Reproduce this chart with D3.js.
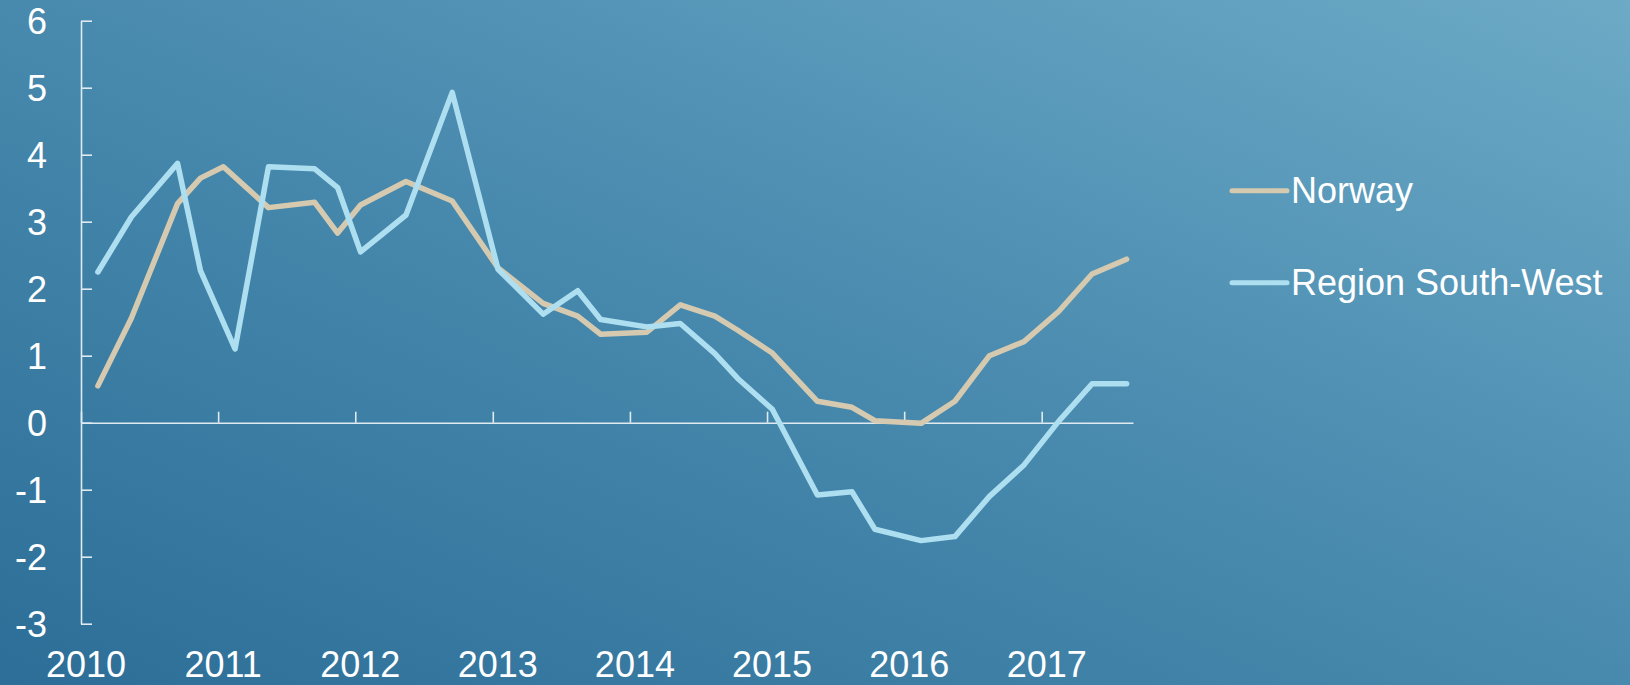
<!DOCTYPE html>
<html lang="en">
<head>
  <meta charset="UTF-8">
  <title>Norway vs Region South-West</title>
  <script src="https://cdn.jsdelivr.net/npm/d3@7"></script>
  <style>
    body {
      margin: 0;
      overflow: hidden;
    }

    text {
      font-family: "Liberation Sans", Arial, sans-serif;
      font-size: 36px;
      fill: #ffffff;
    }

    .axis path,
    .axis line {
      stroke: #dfeaf1;
      stroke-width: 1.6px;
    }

    .series {
      fill: none;
      stroke-width: 5.5px;
      stroke-linejoin: round;
      stroke-linecap: round;
    }
  </style>
</head>
<body>

<div id="chart"></div>

<script>
  // survey rounds (mid-month) and values
  var norwayDates = [
    "2010-02-15", "2010-05-15", "2010-09-15", "2010-11-15", "2011-01-15", "2011-05-15",
    "2011-09-15", "2011-11-15", "2012-01-15", "2012-05-15", "2012-09-15", "2013-01-15",
    "2013-05-15", "2013-08-15", "2013-10-15", "2014-02-15", "2014-05-15", "2014-08-15",
    "2014-10-15", "2015-01-15", "2015-05-15", "2015-08-15", "2015-10-15", "2016-02-15",
    "2016-05-15", "2016-08-15", "2016-11-15", "2017-02-15", "2017-05-15", "2017-08-15"
  ];
  var norwayValues = [
    0.55, 1.56, 3.27, 3.65, 3.82, 3.21,
    3.29, 2.83, 3.25, 3.60, 3.31, 2.31,
    1.78, 1.59, 1.32, 1.35, 1.76, 1.59,
    1.38, 1.04, 0.32, 0.23, 0.03, -0.01,
    0.32, 1.00, 1.21, 1.66, 2.22, 2.44
  ];

  var regionDates = [
    "2010-02-15", "2010-05-15", "2010-09-15", "2010-11-15", "2011-02-15", "2011-05-15",
    "2011-09-15", "2011-11-15", "2012-01-15", "2012-05-15", "2012-09-15", "2013-01-15",
    "2013-05-15", "2013-08-15", "2013-10-15", "2014-02-15", "2014-05-15", "2014-08-15",
    "2014-10-15", "2015-01-15", "2015-05-15", "2015-08-15", "2015-10-15", "2016-02-15",
    "2016-05-15", "2016-08-15", "2016-11-15", "2017-02-15", "2017-05-15", "2017-08-15"
  ];
  var regionValues = [
    2.25, 3.07, 3.87, 2.27, 1.10, 3.82,
    3.79, 3.51, 2.55, 3.10, 4.93, 2.29,
    1.62, 1.97, 1.54, 1.43, 1.48, 1.03,
    0.66, 0.20, -1.08, -1.03, -1.59, -1.76,
    -1.70, -1.10, -0.63, 0.02, 0.58, 0.58
  ];

  var seriesNames = ["Norway", "Region South-West"];
  var seriesColors = ["#d5cab0", "#aedff1"];
  var yearLabels = ["2010", "2011", "2012", "2013", "2014", "2015", "2016", "2017"];
  var yTicks = [-3, -2, -1, 0, 1, 2, 3, 4, 5, 6];

  var width = 1630, height = 685;
  var parseDate = d3.timeParse("%Y-%m-%d");

  var svg = d3.select("#chart").append("svg")
    .attr("width", width)
    .attr("height", height);

  // background gradient, dark bottom-left to light top-right
  var grad = svg.append("defs").append("linearGradient")
    .attr("id", "bg")
    .attr("x1", "0").attr("y1", "1")
    .attr("x2", "1").attr("y2", "0");
  grad.append("stop").attr("offset", "0%").attr("stop-color", "#2c6e97");
  grad.append("stop").attr("offset", "55%").attr("stop-color", "#4b8cb0");
  grad.append("stop").attr("offset", "100%").attr("stop-color", "#6caac6");

  svg.append("rect")
    .attr("width", width)
    .attr("height", height)
    .attr("fill", "url(#bg)");

  var x = d3.scaleTime()
    .domain([new Date(2010, 0, 1), new Date(2017, 8, 1)])
    .range([81, 1133]);

  var y = d3.scaleLinear()
    .domain([-3, 6])
    .range([623.7, 20.7]);

  // y axis with inner ticks, plain hyphen for negatives
  svg.append("g")
    .attr("class", "axis")
    .attr("transform", "translate(81,0)")
    .call(d3.axisLeft(y)
      .tickValues(yTicks)
      .tickFormat(function(d) { return String(d); })
      .tickSizeInner(-11)
      .tickSizeOuter(0)
      .tickPadding(34))
    .call(function(g) {
      g.selectAll("text").attr("dy", "0.36em").style("font-size", "36px");
    });

  // zero line with upward ticks at each year
  var yearTicks = yearLabels.map(function(yr) { return new Date(+yr, 0, 1); });
  svg.append("g")
    .attr("class", "axis")
    .attr("transform", "translate(0," + y(0) + ")")
    .call(d3.axisBottom(x).tickValues(yearTicks).tickSizeInner(-11).tickSizeOuter(0).tickFormat(""));

  // year labels along the bottom
  svg.append("g")
    .selectAll("text")
    .data(yearLabels)
    .enter()
    .append("text")
    .attr("x", function(d) { return x(new Date(+d, 0, 1)) + 5; })
    .attr("y", 677)
    .attr("text-anchor", "middle")
    .text(function(d) { return d; });

  var line = d3.line()
    .x(function(d) { return x(d.date); })
    .y(function(d) { return y(d.value); });

  var norway = norwayDates.map(function(d, i) { return {date: parseDate(d), value: norwayValues[i]}; });
  var region = regionDates.map(function(d, i) { return {date: parseDate(d), value: regionValues[i]}; });
  var allSeries = [norway, region];

  svg.selectAll(".series")
    .data(allSeries)
    .enter()
    .append("path")
    .attr("class", "series")
    .attr("stroke", function(d, i) { return seriesColors[i]; })
    .attr("d", line);

  // legend
  var legend = svg.selectAll(".legend")
    .data(seriesNames)
    .enter()
    .append("g")
    .attr("class", "legend")
    .attr("transform", function(d, i) { return "translate(1232," + (190.7 + i * 92) + ")"; });

  legend.append("line")
    .attr("x1", 0).attr("x2", 55)
    .attr("stroke", function(d, i) { return seriesColors[i]; })
    .attr("stroke-width", 5)
    .attr("stroke-linecap", "round");

  legend.append("text")
    .attr("x", 59)
    .attr("y", 12.5)
    .text(function(d) { return d; });
</script>

</body>
</html>
